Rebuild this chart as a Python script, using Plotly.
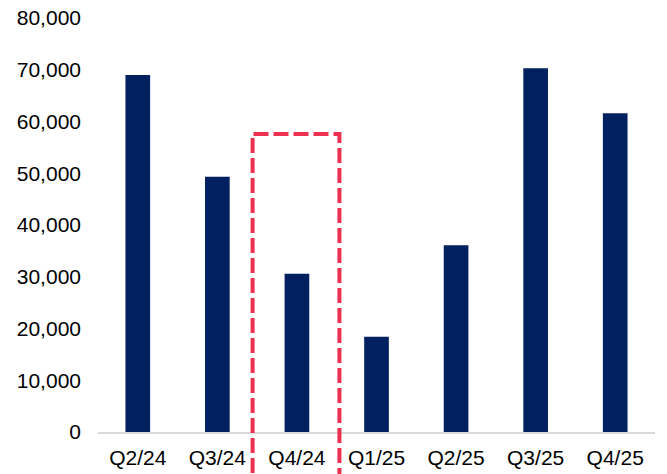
import plotly.graph_objects as go

# quarters and values
quarters = ["Q2/24", "Q3/24", "Q4/24", "Q1/25", "Q2/25", "Q3/25", "Q4/25"]
values = [69000, 49300, 30600, 18400, 36100, 70300, 61600]
y_ticks = [0, 10000, 20000, 30000, 40000, 50000, 60000, 70000, 80000]

# highlighted quarter (dashed box) and its top value
highlight_idx = 2
highlight_top = 57600

font_family = "Liberation Sans, Arial, sans-serif"

fig = go.Figure()
fig.add_trace(go.Bar(
    x=quarters,
    y=values,
    marker=dict(color="#002060", line=dict(width=0)),
    width=0.31,
))

# dashed red box around the highlighted quarter, running off the bottom edge
fig.add_shape(
    type="rect",
    xref="x", yref="paper",
    x0=highlight_idx - 0.557, x1=highlight_idx + 0.534,
    y0=-0.3, y1=highlight_top / y_ticks[-1],
    line=dict(color="#EC3050", width=4, dash="15px,5px"),
    fillcolor="rgba(0,0,0,0)",
    layer="above",
)

# page body adds an 8px margin, so the figure is a bit smaller than the window
fig.update_layout(
    width=659, height=466,
    margin=dict(l=90, r=12, t=10, b=42, autoexpand=False),
    paper_bgcolor="white",
    plot_bgcolor="white",
    showlegend=False,
    font=dict(family=font_family, size=21, color="#000000"),
)
fig.update_xaxes(
    type="category",
    range=[-0.5, 6.5],
    automargin=False,
    showline=True, linecolor="#D9D9D9", linewidth=1.5,
    showgrid=False, zeroline=False,
    ticks="", ticklabelstandoff=6,
    ticklabeloverflow="allow",
    tickfont=dict(family=font_family, size=21, color="#000000"),
)
fig.update_yaxes(
    range=[0, 80000],
    automargin=False,
    tickvals=y_ticks,
    tickformat=",",
    showline=False, showgrid=False, zeroline=False,
    ticks="", ticklabelstandoff=16,
    ticklabeloverflow="allow",
    tickfont=dict(family=font_family, size=21, color="#000000"),
)

fig.write_html("out.html")
